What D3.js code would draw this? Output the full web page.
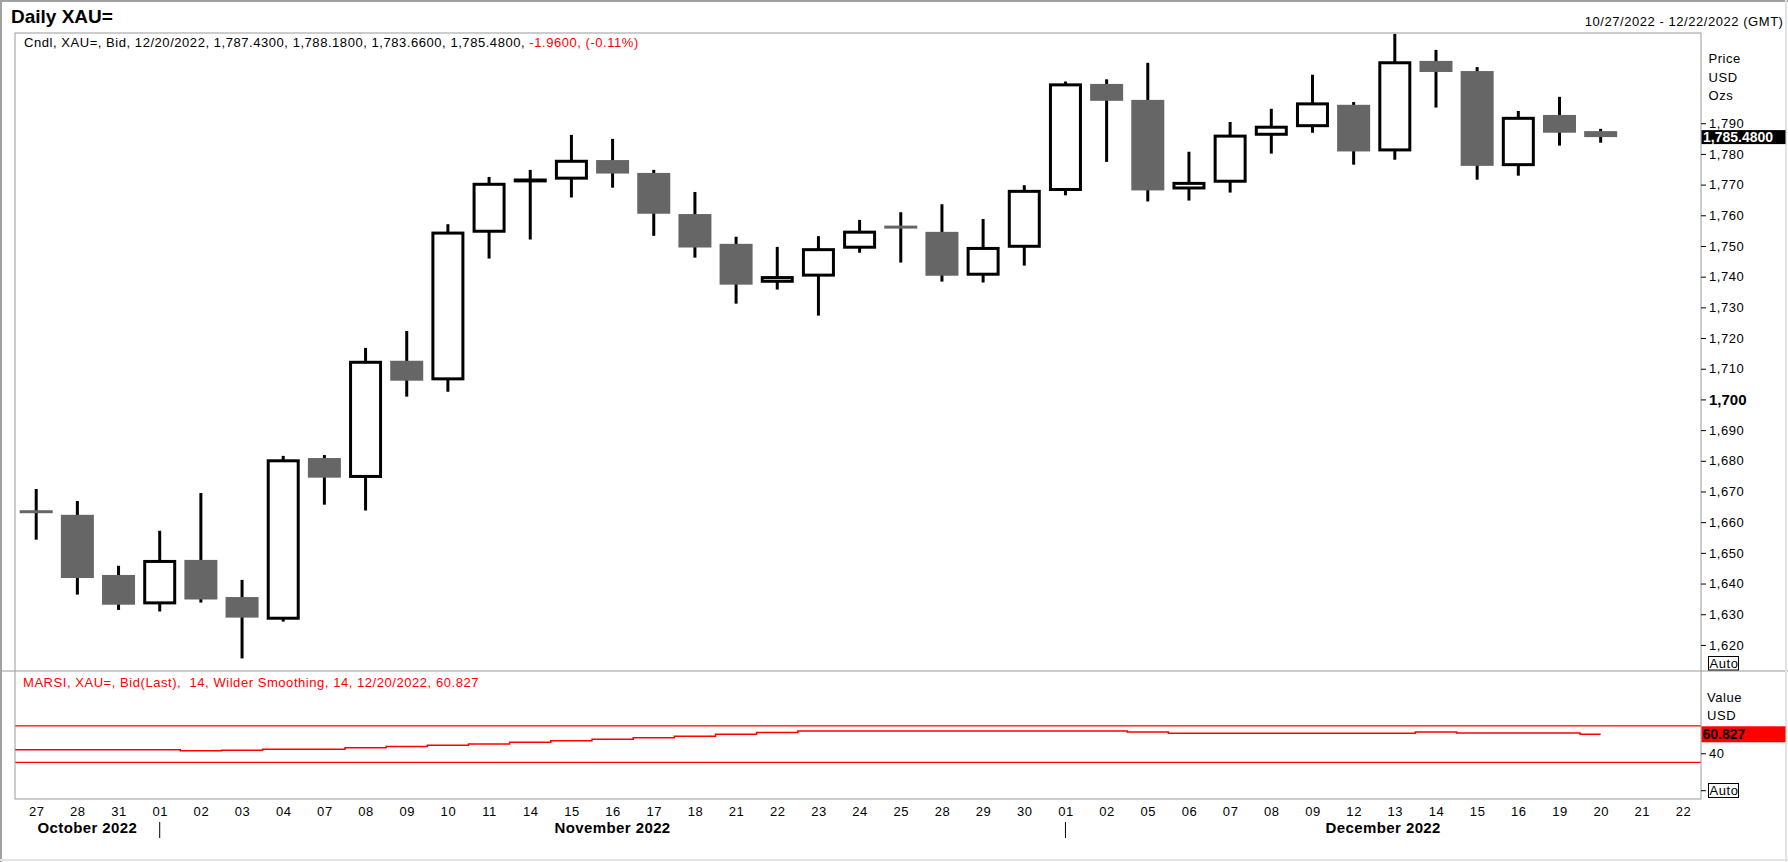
<!DOCTYPE html>
<html><head><meta charset="utf-8">
<script src="https://cdn.jsdelivr.net/npm/d3@7"></script>
<style>
html,body{margin:0;padding:0;background:#fff;overflow:hidden}
svg{display:block;font-family:"Liberation Sans",Arial,sans-serif}
</style>
</head><body>
<svg id="chart" width="1788" height="862"></svg>
<script>
// ---------------- DATA ----------------
const sessions = ["2022-10-27","2022-10-28","2022-10-31","2022-11-01","2022-11-02","2022-11-03","2022-11-04",
  "2022-11-07","2022-11-08","2022-11-09","2022-11-10","2022-11-11","2022-11-14","2022-11-15","2022-11-16",
  "2022-11-17","2022-11-18","2022-11-21","2022-11-22","2022-11-23","2022-11-24","2022-11-25","2022-11-28",
  "2022-11-29","2022-11-30","2022-12-01","2022-12-02","2022-12-05","2022-12-06","2022-12-07","2022-12-08",
  "2022-12-09","2022-12-12","2022-12-13","2022-12-14","2022-12-15","2022-12-16","2022-12-19","2022-12-20",
  "2022-12-21","2022-12-22"];
const dayLabels = ["27","28","31","01","02","03","04","07","08","09","10","11","14","15","16","17","18","21","22",
  "23","24","25","28","29","30","01","02","05","06","07","08","09","12","13","14","15","16","19","20","21","22"];
const monthLabels = ["October 2022","November 2022","December 2022"];

const open  = [1663.6,1662.4,1642.8,1633.7,1647.7,1635.6,1628.7,1680.9,1674.9,1712.6,1706.7,1754.8,1771.2,1772.1,
  1778.0,1773.8,1760.4,1750.7,1738.5,1740.5,1749.6,1756.3,1754.6,1740.8,1749.9,1768.4,1802.8,1797.6,1768.9,
  1771.1,1786.4,1789.2,1796.0,1781.3,1810.3,1807.0,1776.5,1792.7,1787.43];
const high  = [1670.8,1666.9,1645.8,1657.2,1669.5,1641.2,1681.6,1681.9,1716.8,1722.3,1757.1,1772.5,1774.8,1786.2,
  1784.9,1774.8,1767.6,1753.0,1749.7,1753.2,1758.5,1761.0,1763.6,1758.8,1769.8,1803.6,1804.3,1809.7,1780.7,
  1790.4,1794.7,1805.8,1796.9,1819.1,1813.9,1808.3,1794.0,1798.6,1788.18];
const low   = [1654.3,1636.4,1631.4,1630.9,1633.8,1615.6,1627.6,1665.7,1663.8,1700.9,1702.5,1745.9,1752.1,1765.8,
  1769.0,1753.3,1746.2,1731.2,1735.8,1727.3,1747.8,1744.6,1738.4,1738.1,1743.6,1766.5,1777.4,1764.5,1764.8,
  1767.4,1780.1,1786.9,1776.5,1778.1,1795.1,1771.6,1772.9,1782.7,1783.66];
const close = [1663.2,1641.8,1633.1,1647.2,1634.8,1628.9,1680.0,1674.5,1712.1,1706.1,1754.2,1770.1,1771.5,1777.6,
  1773.6,1760.5,1749.5,1737.4,1739.7,1748.8,1754.5,1756.0,1740.3,1749.2,1767.8,1802.5,1797.3,1768.1,1770.4,
  1785.8,1788.7,1796.3,1780.8,1809.7,1806.7,1776.1,1791.6,1786.9,1785.48];
const marsi = [43.8,43.8,43.8,43.8,42.7,43.4,44.5,44.5,46.0,47.4,48.9,50.3,52.1,53.8,55.4,57.0,58.8,60.8,62.8,
  64.45,64.45,64.45,64.45,64.45,64.45,64.45,64.45,63.36,61.9,61.9,61.9,61.9,61.9,61.9,63.36,62.28,62.28,62.28,60.827];
const rsiLevels = [70, 30];
const priceTicks = [1620,1630,1640,1650,1660,1670,1680,1690,1700,1710,1720,1730,1740,1750,1760,1770,1780,1790];
const rsiTicks = [40];

// ---------------- LAYOUT ----------------
const W = 1788, H = 862;
const plotL = 15, plotR = 1701, priceTop = 33, priceBot = 671, rsiBot = 799;
const svg = d3.select("#chart");
const small = {size:"13px", ls:"0.55px"};

const x = d3.scalePoint().domain(d3.range(sessions.length)).range([36.2, 1683]);
const y = d3.scaleLinear().domain([1611.6, 1819.4]).range([670.7, 33]);
const yR = d3.scaleLinear().domain([-10.1, 130.2]).range([rsiBot, priceBot]);

svg.append("rect").attr("width", W).attr("height", H).attr("fill", "#fff");

// clip paths
const defs = svg.append("defs");
defs.append("clipPath").attr("id","cp").append("rect")
  .attr("x", plotL).attr("y", priceTop).attr("width", plotR-plotL).attr("height", priceBot-priceTop);
defs.append("clipPath").attr("id","cr").append("rect")
  .attr("x", plotL).attr("y", priceBot).attr("width", plotR-plotL).attr("height", rsiBot-priceBot);

// ---------------- TITLES ----------------
svg.append("text").attr("x", 11).attr("y", 23.3).attr("font-size", "19px").attr("font-weight", "bold")
  .text("Daily XAU=");
svg.append("text").attr("x", 1783.5).attr("y", 26).attr("text-anchor", "end")
  .attr("font-size", small.size).attr("letter-spacing", small.ls)
  .text("10/27/2022 - 12/22/2022 (GMT)");

const last = close.length - 1;
const chg = close[last] - close[last-1];
const fmt4 = d3.format(",.4f");
const hdr = svg.append("text").attr("x", 24).attr("y", 46.7).attr("font-size", small.size)
  .attr("letter-spacing", small.ls).style("white-space", "pre");
hdr.append("tspan").text(`Cndl, XAU=, Bid, 12/20/2022, ${fmt4(open[last])}, ${fmt4(high[last])}, ${fmt4(low[last])}, ${fmt4(close[last])}, `);
hdr.append("tspan").attr("fill", "#ff0000").text("-1.9600, (-0.11%)");

svg.append("text").attr("x", 23).attr("y", 687.3).attr("font-size", small.size)
  .attr("letter-spacing", small.ls).attr("fill", "#ff0000").style("white-space", "pre")
  .text(`MARSI, XAU=, Bid(Last),  14, Wilder Smoothing, 14, 12/20/2022, ${marsi[marsi.length-1]}`);

// ---------------- CANDLES ----------------
const candles = d3.range(close.length).map(i => ({i, o: open[i], h: high[i], l: low[i], c: close[i]}));
const gC = svg.append("g").attr("clip-path", "url(#cp)");
gC.selectAll("line.wick").data(candles).join("line").attr("class","wick")
  .attr("x1", d => x(d.i)).attr("x2", d => x(d.i))
  .attr("y1", d => y(d.h)).attr("y2", d => y(d.l))
  .attr("stroke", "#000").attr("stroke-width", 3);
gC.selectAll("rect.down").data(candles.filter(d => d.c < d.o)).join("rect").attr("class","down")
  .attr("x", d => x(d.i) - 16.5).attr("width", 33)
  .attr("y", d => { const h = y(d.c) - y(d.o); return h < 3 ? (y(d.o)+y(d.c))/2 - 1.5 : y(d.o); })
  .attr("height", d => Math.max(3, y(d.c) - y(d.o)))
  .attr("fill", "#666666");
gC.selectAll("rect.up").data(candles.filter(d => d.c >= d.o)).join("rect").attr("class","up")
  .attr("x", d => x(d.i) - 15).attr("width", 30)
  .attr("y", d => y(d.c)).attr("height", d => Math.max(0.5, y(d.o) - y(d.c)))
  .attr("fill", "#fff").attr("stroke", "#000").attr("stroke-width", 3);

// ---------------- RSI ----------------
const gR = svg.append("g").attr("clip-path", "url(#cr)");
gR.selectAll("line.lvl").data(rsiLevels).join("line").attr("class","lvl")
  .attr("x1", plotL).attr("x2", plotR).attr("y1", d => yR(d)).attr("y2", d => yR(d))
  .attr("stroke", "#ff0000").attr("stroke-width", 1.2);
const rsiPts = [[x.range()[0] - x.step(), marsi[0]]].concat(marsi.map((v, i) => [x(i), v]));
gR.append("path").datum(rsiPts)
  .attr("d", d3.line().x(d => d[0]).y(d => yR(d[1])).curve(d3.curveStep))
  .attr("fill", "none").attr("stroke", "#ff0000").attr("stroke-width", 1.5);

// ---------------- FRAME ----------------
const border = "#9a9a9a";
svg.append("line").attr("x1", 0).attr("x2", W).attr("y1", priceBot).attr("y2", priceBot).attr("stroke", border);
svg.append("rect").attr("x", plotL).attr("y", priceTop).attr("width", plotR-plotL).attr("height", rsiBot-priceTop)
  .attr("fill", "none").attr("stroke", border);
svg.append("line").attr("x1", 1).attr("x2", W).attr("y1", 1).attr("y2", 1).attr("stroke", "#a0a0a0").attr("stroke-width", 2);
svg.append("line").attr("x1", 1).attr("x2", 1).attr("y1", 0).attr("y2", H).attr("stroke", "#a0a0a0").attr("stroke-width", 2);
svg.append("line").attr("x1", W-2).attr("x2", W-2).attr("y1", 0).attr("y2", H).attr("stroke", "#e3e3e3").attr("stroke-width", 2);
svg.append("line").attr("x1", 0).attr("x2", W).attr("y1", H-2).attr("y2", H-2).attr("stroke", "#e3e3e3").attr("stroke-width", 2);

// ---------------- PRICE AXIS ----------------
const ax = svg.append("g").attr("transform", `translate(${plotR},0)`)
  .call(d3.axisRight(y).tickValues(priceTicks).tickSize(5).tickPadding(3).tickFormat(d3.format(",")));
ax.select(".domain").remove();
ax.selectAll(".tick line").attr("stroke", "#000");
ax.selectAll(".tick text").attr("font-family", null).attr("font-size", small.size)
  .attr("letter-spacing", small.ls).attr("fill", "#000");
ax.selectAll(".tick").filter(d => d === 1700).select("text")
  .attr("font-weight", "bold").attr("font-size", "15px").attr("letter-spacing", null);

["Price","USD","Ozs"].forEach((t, k) => {
  svg.append("text").attr("x", 1708.5).attr("y", 63.3 + k*18.2).attr("font-size", small.size)
    .attr("letter-spacing", small.ls).text(t);
});
// last price marker
svg.append("rect").attr("x", plotR + 0.5).attr("y", y(close[last]) - 7).attr("width", 84).attr("height", 14).attr("fill", "#000");
svg.append("text").attr("x", 1703).attr("y", y(close[last])).attr("dy", "0.36em")
  .attr("font-size", "14px").attr("font-weight", "bold").attr("fill", "#fff").text(fmt4(close[last]));
// Auto box (price)
svg.append("rect").attr("x", 1708.5).attr("y", 656.5).attr("width", 30).attr("height", 13.5)
  .attr("fill", "#fff").attr("stroke", "#000");
svg.append("text").attr("x", 1709.5).attr("y", 668).attr("font-size", small.size).attr("letter-spacing", small.ls).text("Auto");

// ---------------- RSI AXIS ----------------
const axR = svg.append("g").attr("transform", `translate(${plotR},0)`)
  .call(d3.axisRight(yR).tickValues(rsiTicks).tickSize(5).tickPadding(3));
axR.select(".domain").remove();
axR.selectAll(".tick line").attr("stroke", "#000");
axR.selectAll(".tick text").attr("font-family", null).attr("font-size", small.size)
  .attr("letter-spacing", small.ls).attr("fill", "#000");
["Value","USD"].forEach((t, k) => {
  svg.append("text").attr("x", 1707).attr("y", 702 + k*18).attr("font-size", small.size)
    .attr("letter-spacing", small.ls).text(t);
});
const lastR = marsi[marsi.length-1];
svg.append("rect").attr("x", plotR + 0.5).attr("y", yR(lastR) - 8).attr("width", 84).attr("height", 16).attr("fill", "#ff0000");
svg.append("text").attr("x", 1702.5).attr("y", yR(lastR)).attr("dy", "0.36em")
  .attr("font-size", "14px").attr("font-weight", "bold").attr("fill", "#000").text(d3.format(".3f")(lastR));
svg.append("line").attr("x1", plotR).attr("x2", plotR + 5).attr("y1", 790.7).attr("y2", 790.7).attr("stroke", "#000");
svg.append("rect").attr("x", 1708.5).attr("y", 783.5).attr("width", 30).attr("height", 14)
  .attr("fill", "#fff").attr("stroke", "#000");
svg.append("text").attr("x", 1709.5).attr("y", 795.3).attr("font-size", small.size).attr("letter-spacing", small.ls).text("Auto");

// ---------------- DATE AXIS ----------------
const axX = svg.append("g").attr("transform", `translate(0,${rsiBot})`)
  .call(d3.axisBottom(x).tickSize(0).tickPadding(7.8).tickFormat(i => dayLabels[i]));
axX.select(".domain").remove();
axX.selectAll(".tick text").attr("font-family", null).attr("font-size", small.size)
  .attr("letter-spacing", small.ls).attr("fill", "#000");

// month groups
const parse = d3.timeParse("%Y-%m-%d");
const monthKey = s => s.slice(0, 7);
const starts = [];
sessions.forEach((s, i) => { if (i === 0 || monthKey(s) !== monthKey(sessions[i-1])) starts.push(i); });
starts.forEach((si, k) => {
  const a = si === 0 ? plotL : x(si);
  const b = k + 1 < starts.length ? x(starts[k+1]) : plotR;
  svg.append("text").attr("x", (a + b) / 2).attr("y", 833.3).attr("text-anchor", "middle")
    .attr("font-size", "15px").attr("font-weight", "bold").attr("letter-spacing", "0.4px")
    .text(monthLabels[k]);
  if (si > 0) {
    svg.append("line").attr("x1", x(si)).attr("x2", x(si)).attr("y1", 822).attr("y2", 838)
      .attr("stroke", "#000").attr("stroke-width", 1);
  }
});
</script>
</body></html>
